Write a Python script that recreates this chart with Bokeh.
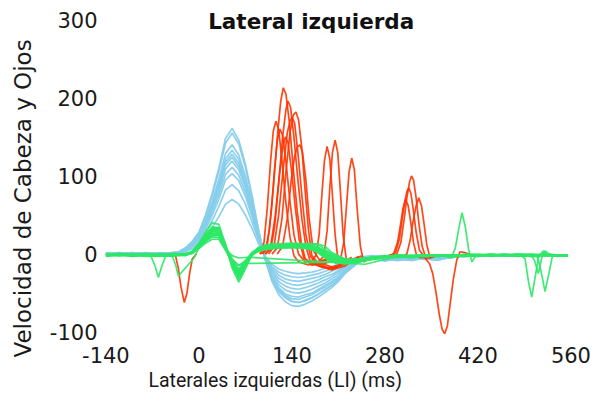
from bokeh.plotting import figure
from bokeh.models import Range1d, FixedTicker, Label, Title, ColumnDataSource
from bokeh.embed import file_html
from bokeh.resources import INLINE

# ---------------- data ----------------
x_ticks = [-140, 0, 140, 280, 420, 560]
y_ticks = [-100, 0, 100, 200, 300]

# blue traces (head velocity) share one time grid
t_blue = [-140, -120, -100, -80, -60, -40, -30, -20, -10, 0, 10, 20, 30, 40, 50, 60, 70, 80, 90,
          100, 110, 120, 130, 140, 150, 160, 170, 180, 190, 200, 210, 220,
          240, 260, 280, 300, 320, 340, 360, 380, 400, 420, 440, 460, 480, 500, 520, 540, 555]
blue_1 = [1,-1,2,0,1,2, 3,8,16,28,50,78,110,148,161,146,115,75,30, -8,-35,-52,-61,-66,-67,-64,-60,-55,-49,-43,-35,-25, -11,-6, -8,-6,-8,-5,-7,-4,-2,-3,-1,-2,0,-2,-1,-3, -2]
blue_2 = [0,2,-1,1,0,1, 3,8,16,27,48,75,106,142,155,141,111,72,29, -7,-32,-48,-56,-61,-62,-59,-56,-51,-45,-40,-32,-23, -10,-5, -9,-5,-7,-6,-8,-3,-3,-2,-2,-1,-1,-3,-2,-2, -1]
blue_3 = [-1,1,0,2,1,0, 2,6,13,23,41,64,91,122,133,121,95,62,25, -7,-30,-45,-53,-57,-58,-55,-52,-47,-42,-37,-30,-21, -9,-5, -7,-8,-6,-4,-6,-5,-2,-1,-3,-2,-1,-2,0,-2, -3]
blue_4 = [2,0,1,-1,2,1, 2,6,13,22,40,62,87,118,128,116,91,60,24, -6,-26,-39,-46,-49,-50,-48,-45,-41,-37,-32,-26,-18, -8,-4, -6,-7,-5,-6,-4,-3,-1,-2,-2,0,-2,-1,-1,-2, -1]
blue_5 = [0,1,1,0,-1,2, 2,7,12,22,38,60,85,114,124,112,88,58,23, -7,-29,-43,-51,-54,-55,-52,-50,-45,-40,-35,-29,-20, -9,-5, -7,-6,-8,-5,-5,-4,-3,-2,-1,-2,-1,-3,-2,-1, -2]
blue_6 = [1,-1,0,1,0,1, 2,6,12,21,37,58,81,109,119,108,85,55,22, -5,-23,-35,-41,-44,-45,-43,-40,-37,-33,-29,-23,-17, -7,-4, -6,-5,-7,-4,-6,-3,-2,-3,-1,-1,-2,-2,-1,-1, -2]
blue_7 = [0,1,2,0,1,0, 2,5,11,19,34,54,76,102,111,101,79,52,21, -5,-21,-31,-36,-39,-40,-38,-36,-33,-29,-26,-21,-15, -6,-3, -5,-6,-5,-4,-5,-2,-2,-1,-2,0,-1,-2,-1,-2, -1]
blue_8 = [-1,0,1,1,0,2, 2,5,10,18,32,50,70,95,103,94,74,48,19, -4,-18,-27,-32,-34,-35,-33,-31,-29,-26,-22,-18,-13, -5,-3, -5,-4,-6,-3,-4,-2,-1,-2,-1,-1,-2,-1,0,-1, -2]
blue_9 = [0,2,0,-1,1,1, 1,4,9,15,28,43,61,82,89,81,64,41,17, -4,-16,-23,-27,-29,-30,-29,-27,-25,-22,-19,-16,-11, -5,-3, -4,-5,-4,-3,-5,-3,-2,-2,-1,-2,-1,-2,-1,-1, -2]
blue_10 = [1,0,1,0,-1,0, 1,3,7,12,22,34,48,64,70,64,50,33,13, -3,-13,-19,-22,-24,-25,-24,-23,-21,-18,-16,-13,-9, -4,-2, -3,-4,-3,-2,-4,-2,-1,-1,-2,-1,-1,-2,-1,-1, -2]
blue_11 = [1,0,-2,1,0,1, 3,7,15,25,44,68,96,129,140,127,100,65,26, -7,-31,-47,-55,-60,-62,-60,-56,-51,-46,-40,-32,-23, -10,-5, -7,-8,-5,-6,-7,-4,-2,-3,-2,-1,-2,-1,-2,-2, -1]

# red traces (eye saccades), each with its own samples
red_1_t = [92,100,106,112,118,123,127,131,136,142,148,154,160,170,185,200,215,230,245]
red_1_v = [0,4,30,85,150,195,213,205,170,110,55,15,-6,-12,-16,-18,-14,-8,-2]
red_2_t = [100,108,114,120,126,131,134,138,143,149,155,161,167,180,200,220,240]
red_2_v = [0,6,35,90,150,185,196,188,150,95,45,10,-8,-15,-20,-15,-3]
red_3_t = [110,118,125,131,137,142,146,150,155,160,165,170,180,195,210,230]
red_3_v = [0,8,45,105,155,178,182,172,135,80,30,-2,-12,-18,-14,-4]
red_4_t = [92,98,103,108,112,116,120,125,131,137,143,150,165,185,205]
red_4_v = [0,15,60,120,158,170,160,120,65,22,-2,-10,-14,-10,-3]
red_5_t = [96,103,109,114,118,122,126,131,137,143,150,160,175,195]
red_5_v = [0,12,55,110,145,160,152,118,68,25,0,-10,-12,-5]
red_6_t = [105,113,120,127,133,137,140,144,149,155,161,168,180,200,225]
red_6_v = [0,10,50,110,155,170,175,168,130,75,25,-3,-15,-20,-8]
red_7_t = [100,108,115,121,126,130,134,139,145,151,158,170,190,210]
red_7_v = [0,10,50,100,135,150,143,110,60,18,-5,-14,-12,-4]
red_8_t = [118,126,133,139,144,148,152,156,161,166,172,185,205,225]
red_8_v = [0,10,45,95,125,137,140,130,95,45,5,-12,-18,-8]
red_9_t = [170,176,181,185,189,193,197,201,205,209,215,225]
red_9_v = [-8,-2,25,75,120,138,122,75,25,-5,-12,-8]
red_10_t = [180,188,193,197,201,205,209,213,217,222,230]
red_10_v = [-10,-3,30,85,130,146,130,80,25,-8,-12]
red_11_t = [205,213,218,222,226,230,234,238,243,248,258]
red_11_v = [-12,-8,15,60,105,123,108,60,10,-10,-5]
red_12_t = [290,298,304,309,313,317,320,323,327,331,336,342,350]
red_12_v = [-3,0,15,45,72,92,100,95,72,40,10,-6,-4]
red_13_t = [285,293,299,303,307,311,315,319,323,328,335]
red_13_v = [-2,0,15,35,58,70,62,40,15,-3,-5]
red_14_t = [305,313,318,322,327,331,335,339,343,348,355]
red_14_v = [-4,0,18,40,62,72,62,38,12,-5,-3]
red_15_t = [288,296,302,306,310,313,316,319,323,327,332,340]
red_15_v = [-2,2,20,45,68,80,85,78,55,28,5,-4]
red_16_t = [330,340,347,352,357,362,366,370,374,378,383,388,393,400,410]
red_16_v = [-3,-5,-12,-25,-50,-78,-96,-102,-92,-65,-32,-8,3,2,-1]
red_17_t = [-42,-35,-31,-27,-22,-18,-14,-10,-4]
red_17_v = [0,-3,-18,-42,-62,-50,-25,-6,0]

# green traces (eye velocity); most share one time grid
t_green = [-140, -120, -100, -80, -60, -40, -20, -10, 0, 10, 20, 30, 40, 50, 60, 70, 80, 90, 100, 110, 120,
           140, 160, 170, 180, 190, 200, 220, 240, 260, 280, 300, 320, 340, 360, 380, 400, 420, 440,
           460, 480, 500, 520, 540, 555]
green_1 = [-2,0,-3,-1,-2,0,-1, 4,14,28,40,38,13,-18,-36,-19,0,8,11,12,10, 12,11, 10,5,-2,-7, -10,-8,-6,-3,-2,-4,-1,-3,-2,-1,0,-2,-1,-2,-1,-2,-1, -2]
green_2 = [0,-2,-1,1,-3,-1,0, 3,12,24,34,33,12,-15,-33,-17,1,9,10,11,12, 11,13, 12,8,0,-5, -9,-7,-5,-4,-1,-3,-2,-2,-3,0,-1,-1,-2,-1,-2,0,-2, -1]
green_3 = [-1,1,-2,0,-1,-2,1, 2,11,22,31,31,10,-14,-30,-15,-1,7,9,10,9, 10,10, 11,9,3,-3, -8,-9,-5,-2,-3,-5,-2,-1,-4,-2,-1,-2,0,-3,-1,-1,-2, -1]
green_4 = [-3,-1,0,-2,0,-1,-2, 2,10,20,27,27,9,-12,-25,-13,0,6,8,9,10, 11,9, 8,3,-3,-8, -11,-7,-4,-3,-1,-2,-3,-2,-1,-2,-1,0,-2,-1,-3,-1,-2, -2]
green_5 = [-1,-2,0,-1,-2,1,0, 2,9,18,24,24,8,-10,-20,-10,1,6,9,10,11, 13,12, 13,12,6,0, -7,-10,-6,-4,-2,-3,-1,-2,-3,-1,-1,-2,-1,-2,0,-2,-1, -2]
green_6 = [0,-1,-2,0,-1,-3,-1, 1,8,16,22,21,6,-12,-27,-14,-2,5,7,8,9, 10,8, 7,2,-4,-9, -12,-9,-6,-3,-2,-4,-2,-3,-1,-2,-1,-1,-2,-1,-2,-1,-1, -2]
green_7 = [-2,-1,0,-2,-1,-1,0, 3,11,21,29,28,8,-6,-15,-8,2,8,12,13,13, 14,13, 13,13,10,2, -6,-9,-7,-3,-2,-3,-2,-1,-2,-3,-1,-1,-2,0,-1,-2,-2, -1]
green_8 = [-1,0,-1,-3,-2,0,-1, 1,7,14,19,19,5,-10,-22,-11,-1,4,6,7,8, 9,7, 6,1,-5,-10, -13,-10,-6,-4,-3,-3,-1,-2,-2,-1,-2,0,-1,-2,-1,-1,-2, -1]
green_9_t = [-140,-100,-60,-20,-10,0,10,20,30,40,50,60,70,240,280,320,360,400,440,480,520,555]
green_9_v = [-1,-2,0,-1,3,11,23,33,32,10,-8,-14,-12,-10,-4,-2,-3,-1,-2,0,-1,-2]
green_10_t = [-140,-120,-100,-80,-72,-66,-61,-56,-50,-40,-20,-10,0,10,20,30,40,50,60,70,80,90,100,120,140,160,180,200,220,260,300,340,380,420,460,500,540,555]
green_10_v = [-1,0,-2,-1,-3,-15,-30,-16,-2,-1,0,3,12,25,35,34,11,-13,-28,-14,1,7,9,11,10,12,6,-5,-9,-4,-2,-3,-1,-2,-1,-2,-1,-2]
green_11_t = [-140,-100,-60,-40,-35,-31,-8,0,10,20,30,40,50,60,70,80,100,120,140,160,180,200,240,280,320,360,400,440,480,520,555]
green_11_v = [0,-2,-1,-3,-14,-28,-6,8,20,30,29,9,-10,-24,-12,2,9,10,9,8,3,-6,-8,-3,-2,-1,-3,-1,-2,-1,-1]
green_12_t = [-140,-100,-60,-20,-10,0,10,20,30,40,50,60,70,80,100,120,140,160,180,200,220,260,300,340,370,380,386,391,396,401,406,411,416,440,480,520,555]
green_12_v = [-1,-2,0,-1,2,10,21,30,29,9,-11,-26,-13,0,8,9,10,9,5,-4,-9,-5,-2,-3,-2,-5,8,32,53,35,6,-10,-3,-1,-2,-1,-2]
green_13_t = [-140,-100,-60,-20,-10,0,10,20,30,40,50,60,70,80,100,120,140,160,180,200,220,260,300,340,380,420,460,485,491,496,501,506,511,518,525,540,555]
green_13_v = [-2,-1,-2,0,3,12,24,33,32,11,-12,-29,-15,0,9,11,12,11,7,-3,-8,-6,-3,-2,-1,-2,-1,-2,-6,-35,-55,-30,-5,4,0,-2,-1]
green_14_t = [-140,-100,-60,-20,-10,0,10,20,30,40,50,60,70,80,100,120,140,160,180,200,220,260,300,340,380,420,460,500,505,511,516,521,527,540,555]
green_14_v = [-1,0,-2,-1,2,9,19,27,26,8,-9,-22,-11,1,7,8,9,10,8,0,-7,-5,-2,-3,-2,-1,-2,-1,-8,-25,-5,4,0,-2,-1]
green_15_t = [-140,-100,-60,-20,-10,0,10,20,30,40,50,60,70,80,100,120,140,160,180,200,220,260,300,340,380,420,460,500,510,515,521,527,532,545,555]
green_15_v = [0,-1,-2,0,2,8,17,24,24,7,-8,-19,-9,1,6,8,8,9,6,-2,-8,-4,-3,-1,-2,-2,-1,-2,-4,-22,-48,-24,-3,-1,-2]
green_16_t = [-140,-100,-60,-20,-10,0,10,20,30,40,50,60,75,250,290,330,370,410,450,490,530,555]
green_16_v = [0,-1,-2,0,2,9,18,26,25,7,-2,-5,-4,-13,-5,-3,-1,-2,-1,-2,-1,-1]

title_text = "Lateral izquierda"
x_label = "Laterales izquierdas (LI) (ms)"
y_label = "Velocidad de Cabeza y Ojos"

# ---------------- figure ----------------
p = figure(width=616, height=396, output_backend="svg", toolbar_location=None, title=None,
           x_range=Range1d(-140.6, 580.4), y_range=Range1d(-113.2, 314.5),
           min_border_left=104, min_border_right=32, min_border_top=8, min_border_bottom=54)
p.outline_line_color = None
p.xgrid.visible = False
p.ygrid.visible = False
p.background_fill_color = "white"
p.border_fill_color = "white"

blue_ys = [blue_1, blue_2, blue_3, blue_4, blue_5, blue_6, blue_7, blue_8, blue_9, blue_10, blue_11]
blue_src = ColumnDataSource(dict(xs=[t_blue] * len(blue_ys), ys=blue_ys))
p.multi_line("xs", "ys", source=blue_src, line_color="#87CEEB", line_width=1.7, line_alpha=0.95)

red_xs = [red_1_t, red_2_t, red_3_t, red_4_t, red_5_t, red_6_t, red_7_t, red_8_t, red_9_t,
          red_10_t, red_11_t, red_12_t, red_13_t, red_14_t, red_15_t, red_16_t, red_17_t]
red_ys = [red_1_v, red_2_v, red_3_v, red_4_v, red_5_v, red_6_v, red_7_v, red_8_v, red_9_v,
          red_10_v, red_11_v, red_12_v, red_13_v, red_14_v, red_15_v, red_16_v, red_17_v]
red_src = ColumnDataSource(dict(xs=red_xs, ys=red_ys))
p.multi_line("xs", "ys", source=red_src, line_color="#FF3300", line_width=1.7, line_alpha=0.9)

green_xs = [t_green] * 8 + [green_9_t, green_10_t, green_11_t, green_12_t, green_13_t,
                            green_14_t, green_15_t, green_16_t]
green_ys = [green_1, green_2, green_3, green_4, green_5, green_6, green_7, green_8,
            green_9_v, green_10_v, green_11_v, green_12_v, green_13_v, green_14_v, green_15_v, green_16_v]
green_src = ColumnDataSource(dict(xs=green_xs, ys=green_ys))
p.multi_line("xs", "ys", source=green_src, line_color="#2EE866", line_width=1.7, line_alpha=0.9)

p.xaxis.ticker = FixedTicker(ticks=x_ticks)
p.yaxis.ticker = FixedTicker(ticks=y_ticks)
p.xaxis.major_label_overrides = {t: str(t) for t in x_ticks}
p.yaxis.major_label_overrides = {t: str(t) for t in y_ticks}
for ax in (p.xaxis[0], p.yaxis[0]):
    ax.axis_line_color = None
    ax.major_tick_line_color = None
    ax.minor_tick_line_color = None
    ax.major_tick_out = 0
    ax.major_tick_in = 0
    ax.minor_tick_out = 0
    ax.minor_tick_in = 0
    ax.major_label_text_font = "DejaVu Sans"
    ax.major_label_text_font_size = "21px"
    ax.major_label_text_color = "#1a1a1a"
p.xaxis.major_label_standoff = 4
p.yaxis.major_label_standoff = 8

# axis titles (as side-panel titles, offset like the reference)
p.add_layout(Title(text=x_label, align="left", offset=43, standoff=2, text_font="Roboto",
                   text_font_size="19.5px", text_font_style="normal", text_color="#1a1a1a"), "below")
p.add_layout(Title(text=y_label, align="left", offset=-15, standoff=18, vertical_align="top",
                   text_font="DejaVu Sans", text_font_size="23px", text_font_style="normal",
                   text_color="#1a1a1a"), "left")

# chart title sits inside the plotting area, level with the top tick
p.add_layout(Label(x=169, y=298, text=title_text, text_font="DejaVu Sans", text_font_style="bold",
                   text_font_size="21.5px", text_align="center", text_baseline="middle",
                   text_color="#111111"))

open("out.html", "w").write(file_html(p, INLINE))
